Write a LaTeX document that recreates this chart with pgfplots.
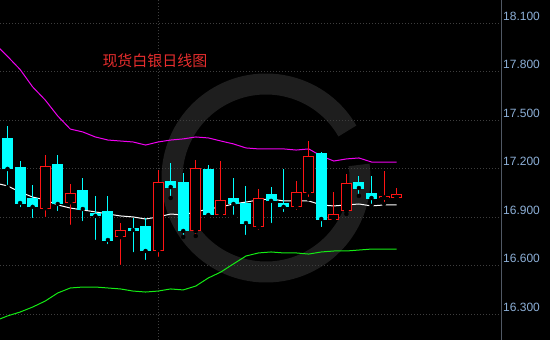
\documentclass[border=0pt]{standalone}
\usepackage{pgfplots}
\pgfplotsset{compat=1.18}
\usepackage{pgfplotstable}
\usepackage{fontspec}
\setmainfont{Liberation Sans}
\newfontfamily\cjk{Noto Sans CJK SC}
\definecolor{tickc}{RGB}{140,175,215}
\definecolor{gridc}{RGB}{62,62,62}
\definecolor{wmark}{RGB}{30,30,30}
\definecolor{upc}{RGB}{255,20,20}
\definecolor{dnc}{RGB}{0,255,255}
\definecolor{bandu}{RGB}{240,0,240}
\definecolor{bandl}{RGB}{20,235,20}
\definecolor{titlec}{RGB}{230,45,45}
\definecolor{axc}{RGB}{80,88,100}

\pgfplotstableread{
i    up     mid    lo
-1   17.972 17.111 16.257
0    17.895 17.093 16.288
1    17.814 17.055 16.312
2    17.706 17.024 16.343
3    17.625 17.006 16.380
4    17.526 16.975 16.430
5    17.445 16.956 16.461
6    17.427 16.944 16.467
7    17.396 16.932 16.467
8    17.377 16.919 16.461
9    17.371 16.907 16.455
10   17.365 16.901 16.442
11   17.346 16.888 16.436
12   17.365 16.901 16.442
13   17.377 16.919 16.455
14   17.384 16.913 16.449
15   17.396 16.932 16.473
16   17.390 16.950 16.523
17   17.371 16.963 16.560
18   17.353 16.981 16.610
19   17.328 16.993 16.659
20   17.322 17.006 16.678
21   17.322 17.012 16.684
22   17.322 17.000 16.678
23   17.315 17.000 16.678
24   17.322 17.000 16.671
25   17.278 16.975 16.684
26   17.247 16.969 16.690
27   17.260 16.975 16.690
28   17.266 16.981 16.696
29   17.241 16.969 16.702
30   17.241 16.975 16.702
31   17.241 16.975 16.702
}\bands

% falling days (cyan): index, low, body low (close), body high (open), high
\pgfplotstableread{
i   lo     bl     bh     hi
0   17.086 17.198 17.384 17.464
1   16.950 16.987 17.210 17.247
2   16.882 16.963 17.012 17.099
4   16.925 16.981 17.223 17.284
6   16.863 16.950 17.062 17.142
7   16.746 16.907 16.925 17.031
8   16.721 16.758 16.932 17.031
10  16.671 16.820 16.832 16.894
11  16.622 16.690 16.839 16.894
13  17.018 17.086 17.123 17.235
14  16.777 16.814 17.111 17.173
16  16.888 16.913 17.192 17.223
18  16.901 16.981 17.012 17.142
19  16.777 16.863 16.981 17.093
21  16.851 17.000 17.037 17.086
22  16.919 16.963 16.987 17.198
25  16.826 16.888 17.291 17.303
28  17.031 17.080 17.117 17.154
29  16.969 17.018 17.049 17.154
}\dn

% rising days (red, hollow): index, low, body low (open), body high (close), high
\pgfplotstableread{
i   lo     bl     bh     hi
3   16.888 16.956 17.216 17.284
5   16.839 16.993 17.049 17.105
9   16.591 16.777 16.814 16.863
12  16.641 16.696 17.111 17.192
15  16.783 16.814 17.198 17.254
17  16.919 16.919 17.000 17.247
20  16.808 16.839 17.012 17.074
23  16.932 16.963 17.055 17.123
24  17.012 17.055 17.272 17.371
26  16.870 16.888 16.919 17.055
27  16.919 16.938 17.105 17.167
30  16.981 17.021 17.027 17.185
31  17.000 17.024 17.037 17.080
}\up

\begin{document}
\begin{tikzpicture}
\fill[black] (0,0) rectangle (550pt,340pt);
% watermark ring
\draw[wmark, line width=21pt] (266pt,162pt) ++(30:94pt) arc[start angle=30, end angle=368, radius=94pt];
\begin{axis}[
  at={(0,0)}, anchor=south west,
  scale only axis, width=502pt, height=340pt,
  xmin=-0.6, xmax=39.4, ymin=16.139, ymax=18.244,
  axis line style={draw=none},
  xtick={12}, xticklabels={}, xmajorgrids,
  ytick={16.3,16.6,16.9,17.2,17.5,17.8,18.1}, ymajorgrids,
  major tick length=0pt,
  grid style={gridc, line width=0.8pt, dash pattern=on 1pt off 2pt},
  yticklabel pos=right,
  yticklabel style={anchor=west, inner sep=1pt, xshift=0pt, yshift=7pt, text=tickc, font=\fontsize{12}{14}\selectfont},
  /pgf/number format/.cd, fixed, fixed zerofill, precision=3, assume math mode=true,
  /pgfplots/.cd,
  clip=true,
]
\addplot[bandu, line width=1pt] table[x=i, y=up] {\bands};
\addplot[bandl, line width=1pt] table[x=i, y=lo] {\bands};
\addplot[white, line width=1pt] table[x=i, y=mid] {\bands};
% falling candles: wicks then filled bodies
\addplot[only marks, mark=none, error bars/.cd, y dir=plus, y explicit, error mark=none,
  error bar style={draw=dnc, line width=1pt}]
  table[x=i, y=lo, y error expr=\thisrow{hi}-\thisrow{lo}] {\dn};
\addplot[only marks, mark=none, error bars/.cd, y dir=plus, y explicit, error mark=none,
  error bar style={draw=dnc, line width=11pt, shorten <=-0.5pt, shorten >=-0.5pt}]
  table[x=i, y=bl, y error expr=\thisrow{bh}-\thisrow{bl}] {\dn};
% rising candles: wicks, red outline, black inside
\addplot[only marks, mark=none, error bars/.cd, y dir=plus, y explicit, error mark=none,
  error bar style={draw=upc, line width=1pt}]
  table[x=i, y=lo, y error expr=\thisrow{hi}-\thisrow{lo}] {\up};
\addplot[only marks, mark=none, error bars/.cd, y dir=plus, y explicit, error mark=none,
  error bar style={draw=upc, line width=11pt, shorten <=-0.5pt, shorten >=-0.5pt}]
  table[x=i, y=bl, y error expr=\thisrow{bh}-\thisrow{bl}] {\up};
\addplot[only marks, mark=none, error bars/.cd, y dir=plus, y explicit, error mark=none,
  error bar style={draw=black, line width=9pt, shorten <=0.5pt, shorten >=0.5pt}]
  table[x=i, y=bl, y error expr=\thisrow{bh}-\thisrow{bl}] {\up};
\draw[axc, line width=1pt] (rel axis cs:1,0) -- (rel axis cs:1,1);
\end{axis}
\node[text=titlec, font=\cjk\fontsize{15}{18}\selectfont, inner sep=0pt] at (155pt,279pt) {现货白银日线图};
\pgfresetboundingbox
\path[use as bounding box] (0,0) rectangle (550pt,340pt);
\end{tikzpicture}
\end{document}
